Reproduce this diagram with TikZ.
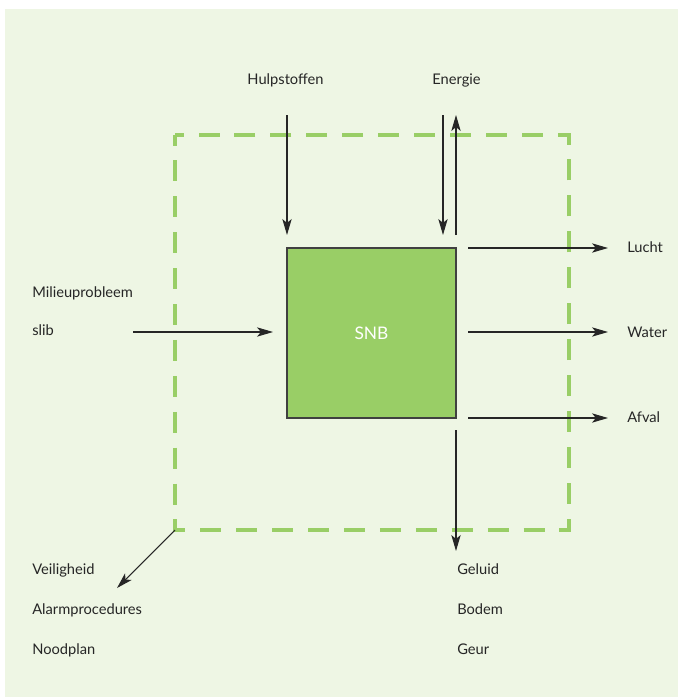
\documentclass[tikz,border=0pt]{standalone}
\usepackage{fontspec}
\setmainfont{Lato}
\usetikzlibrary{arrows.meta}
\definecolor{achtergrond}{HTML}{EEF6E4}
\definecolor{snbgroen}{HTML}{99CE66}
\definecolor{tekst}{HTML}{262626}
\begin{document}
\begin{tikzpicture}[x=0.75pt,y=-0.75pt,
	flow/.style={-{Stealth[length=12pt,width=7pt,inset=3pt]},draw=black!85,line width=0.8pt},
	lbl/.style={inner sep=0pt,text=tekst,font=\fontsize{11}{13}\selectfont},
	grens/.style={draw=snbgroen,line width=2.3pt,dash pattern=on 15.75pt off 11.18pt,dash phase=7.875pt}]
	\useasboundingbox (0,0) rectangle (678,697);
	\fill[achtergrond] (5,9) rectangle (678,697);
	\draw[grens] (175,135) rectangle (569,530);
	\node[draw=black!75,fill=snbgroen,line width=1pt,minimum width=126.75pt,minimum height=127.5pt,
		text=white,font=\fontsize{13}{15}\selectfont] (snb) at (371.5,333) {SNB};
	% labels
	\node[lbl,anchor=base] (hulp) at (285.5,84) {Hulpstoffen};
	\node[lbl,anchor=base] (energie) at (456.5,84) {Energie};
	\node[lbl,anchor=base west] (milieu) at (32,297) {Milieuprobleem};
	\node[lbl,anchor=base west] (slib) at (32,335) {slib};
	\node[lbl,anchor=base west] (lucht) at (627,252) {Lucht};
	\node[lbl,anchor=base west] (water) at (627,337) {Water};
	\node[lbl,anchor=base west] (afval) at (627,422) {Afval};
	\node[lbl,anchor=base west] (veilig) at (32,574) {Veiligheid};
	\node[lbl,anchor=base west] (alarm) at (32,614) {Alarmprocedures};
	\node[lbl,anchor=base west] (nood) at (32,654) {Noodplan};
	\node[lbl,anchor=base west] (geluid) at (457,574) {Geluid};
	\node[lbl,anchor=base west] (bodem) at (457,614) {Bodem};
	\node[lbl,anchor=base west] (geur) at (457,654) {Geur};
	% eindpunten van de pijlen
	\coordinate (hulpvan) at (287,115);   \coordinate (hulpnaar) at (287,235);
	\coordinate (energievan) at (443,115); \coordinate (energienaar) at (443,235);
	\coordinate (terugvan) at (456,235);  \coordinate (terugnaar) at (456,115);
	\coordinate (luchtvan) at (468,248);  \coordinate (luchtnaar) at (608,248);
	\coordinate (watervan) at (468,332);  \coordinate (waternaar) at (608,332);
	\coordinate (afvalvan) at (468,418);  \coordinate (afvalnaar) at (608,418);
	\coordinate (geluidvan) at (456,430); \coordinate (geluidnaar) at (456,551);
	\coordinate (slibvan) at (133,332);   \coordinate (slibnaar) at (273,332);
	\coordinate (hoek) at (175,530);      \coordinate (veilignaar) at (117,588);
	% pijlen
	\draw[flow] (hulpvan) -- (hulpnaar);
	\draw[flow] (energievan) -- (energienaar);
	\draw[flow] (terugvan) -- (terugnaar);
	\draw[flow] (luchtvan) -- (luchtnaar);
	\draw[flow] (watervan) -- (waternaar);
	\draw[flow] (afvalvan) -- (afvalnaar);
	\draw[flow] (geluidvan) -- (geluidnaar);
	\draw[flow] (slibvan) -- (slibnaar);
	\draw[flow] (hoek) -- (veilignaar);
\end{tikzpicture}
\end{document}
